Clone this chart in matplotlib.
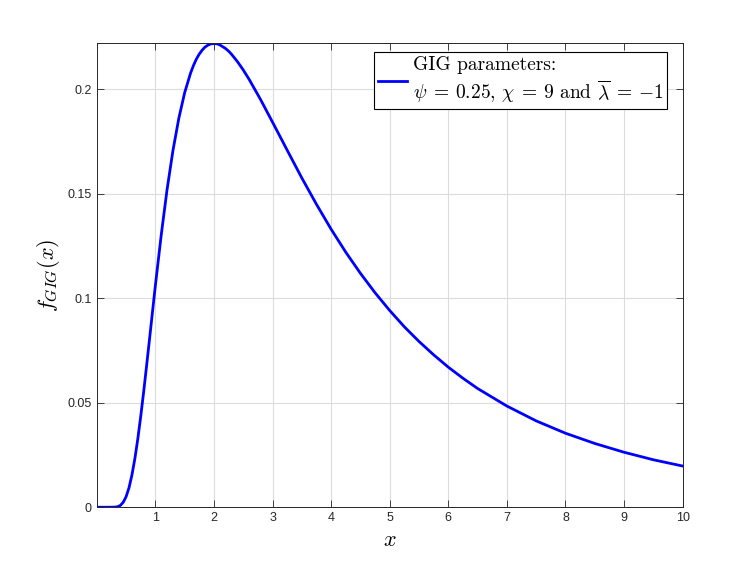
import matplotlib
matplotlib.use("Agg")
import matplotlib.pyplot as plt

plt.rcParams['mathtext.fontset'] = 'cm'
plt.rcParams['font.family'] = ['Liberation Sans', 'DejaVu Sans']

# curve points
x = [0.0, 0.2, 0.3, 0.35, 0.4, 0.45, 0.5, 0.55, 0.6, 0.65, 0.7, 0.75, 0.8, 0.85,
     0.9, 0.95, 1.0, 1.1, 1.2, 1.3, 1.4, 1.5, 1.6, 1.65, 1.7, 1.75, 1.8, 1.85,
     1.9, 1.95, 2.0, 2.05, 2.1, 2.2, 2.25, 2.3, 2.4, 2.5, 2.6, 2.75, 2.8, 3.0,
     3.25, 3.5, 3.75, 4.0, 4.25, 4.5, 4.75, 5.0, 5.25, 5.5, 5.75, 6.0, 6.25,
     6.5, 7.0, 7.5, 8.0, 8.5, 9.0, 9.5, 10.0]
y = [0.0, 0.0, 0.00004, 0.0002, 0.0008, 0.0023, 0.0050, 0.0093, 0.0154, 0.0232,
     0.0326, 0.0434, 0.0551, 0.0676, 0.0803, 0.0932, 0.106, 0.1302, 0.152,
     0.1706, 0.186, 0.1983, 0.2076, 0.2113, 0.2144, 0.2168, 0.2187, 0.2202,
     0.2211, 0.2217, 0.2218, 0.2217, 0.2212, 0.2194, 0.2182, 0.2167, 0.2132,
     0.2092, 0.2047, 0.1973, 0.1948, 0.1842, 0.1708, 0.1575, 0.1449, 0.1330,
     0.1220, 0.1119, 0.1026, 0.0941, 0.0863, 0.0793, 0.0729, 0.0670, 0.0617,
     0.0568, 0.0484, 0.0413, 0.0354, 0.0305, 0.0263, 0.0227, 0.0197]
xticks = [1, 2, 3, 4, 5, 6, 7, 8, 9, 10]
yticks = [0, 0.05, 0.1, 0.15, 0.2]
ytick_labels = ['0', '0.05', '0.1', '0.15', '0.2']
label = ('GIG parameters:\n'
         r'$\psi\;=\,0.25$, $\chi\;=\,9$ and $\overline{\lambda}\;=\,{-}1$')

fig = plt.figure(figsize=(7.56, 5.68), dpi=100)
ax = fig.add_axes([0.128, 0.107, 0.775, 0.817])
ax.plot(x, y, color='#0000ff', linewidth=2, label=label)
ax.set_xlim(0, 10)
ax.set_ylim(0, 0.222)
ax.set_xticks(xticks)
ax.set_yticks(yticks)
ax.set_yticklabels(ytick_labels)
ax.grid(True, color='#dcdcdc', linewidth=0.8)
ax.set_axisbelow(True)
ax.tick_params(direction='in', top=True, right=True, labelsize=9, length=5,
               width=0.6, colors='#262626')
for s in ax.spines.values():
    s.set_linewidth(0.7)
    s.set_color('#262626')
ax.set_xlabel(r'$x$', fontsize=16)
ax.set_ylabel(r'$f_{GIG}(x)$', fontsize=16)
leg = ax.legend(loc='upper right', bbox_to_anchor=(0.974, 0.981),
                borderaxespad=0, prop={'family': 'cmr10', 'size': 14},
                frameon=True, fancybox=False, framealpha=1,
                handlelength=1.5, handletextpad=0.3,
                borderpad=0.2, labelspacing=0.2)
leg.get_frame().set_edgecolor('black')
leg.get_frame().set_linewidth(0.8)
fig.savefig('out.png', dpi=100)
